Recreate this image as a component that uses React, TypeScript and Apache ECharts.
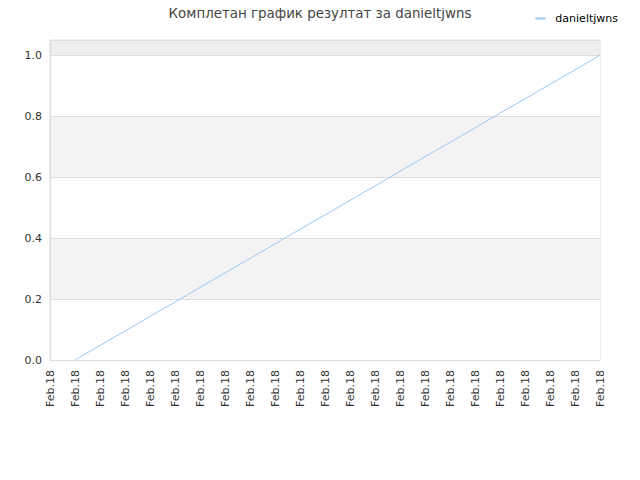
import React, { useEffect, useRef } from "react";
import * as echarts from "echarts";

const categories: string[] = [
  "Feb.18", "Feb.18", "Feb.18", "Feb.18", "Feb.18", "Feb.18", "Feb.18", "Feb.18",
  "Feb.18", "Feb.18", "Feb.18", "Feb.18", "Feb.18", "Feb.18", "Feb.18", "Feb.18",
  "Feb.18", "Feb.18", "Feb.18", "Feb.18", "Feb.18", "Feb.18", "Feb.18",
];

const seriesValues: (number | null)[] = [
  null, 0, 0.048, 0.095, 0.143, 0.19, 0.238, 0.286, 0.333, 0.381, 0.429, 0.476,
  0.524, 0.571, 0.619, 0.667, 0.714, 0.762, 0.81, 0.857, 0.905, 0.952, 1.0,
];

const titleText = "Комплетан график резултат за danieltjwns";
const seriesName = "danieltjwns";

export default function App() {
  const ref = useRef<HTMLDivElement>(null);
  useEffect(() => {
    if (!ref.current) return;
    const chart = echarts.init(ref.current, undefined, { renderer: "svg" });
    chart.setOption({
      animation: false,
      title: {
        text: titleText,
        left: "center",
        top: 2,
        textStyle: { fontSize: 13.4, fontWeight: "normal", color: "#444", fontFamily: "DejaVu Sans" },
      },
      legend: {
        right: 17,
        top: 8,
        icon: "rect",
        itemWidth: 10,
        itemHeight: 2,
        itemGap: 6,
        textStyle: { fontSize: 11, color: "#000", fontFamily: "DejaVu Sans", padding: [0, 0, 0, 5] },
        data: [seriesName],
      },
      grid: {
        left: 50,
        right: 40,
        top: 40,
        bottom: 120,
        show: true,
        borderColor: "#dddddd",
        borderWidth: 1,
        backgroundColor: "transparent",
      },
      xAxis: {
        type: "category",
        data: categories,
        boundaryGap: false,
        axisLine: { lineStyle: { color: "#dddddd" } },
        axisTick: { show: false },
        axisLabel: {
          rotate: 90,
          interval: 0,
          fontSize: 11,
          color: "#333",
          fontFamily: "DejaVu Sans",
          margin: 10,
        },
        splitLine: { show: false },
      },
      yAxis: {
        type: "value",
        min: 0,
        max: 1.05,
        interval: 0.2,
        axisLine: { show: true, lineStyle: { color: "#dddddd" } },
        axisTick: { show: false },
        axisLabel: {
          fontSize: 11,
          color: "#333",
          fontFamily: "DejaVu Sans",
          showMaxLabel: false,
          formatter: (v: number) => (v > 1.001 ? "" : v.toFixed(1)),
        },
        splitLine: { show: true, lineStyle: { color: "#dddddd" } },
        splitArea: {
          show: true,
          areaStyle: { color: ["#ffffff", "#f3f3f3", "#ffffff", "#f3f3f3", "#ffffff", "#eeeeee"] },
        },
      },
      series: [
        {
          name: seriesName,
          type: "line",
          data: seriesValues,
          showSymbol: false,
          symbol: "none",
          lineStyle: { color: "#99c7f5", width: 1 },
          itemStyle: { color: "#99c7f5" },
        },
      ],
    });
    return () => chart.dispose();
  }, []);
  return <div ref={ref} style={{ width: 640, height: 480, margin: -8 }} />;
}
